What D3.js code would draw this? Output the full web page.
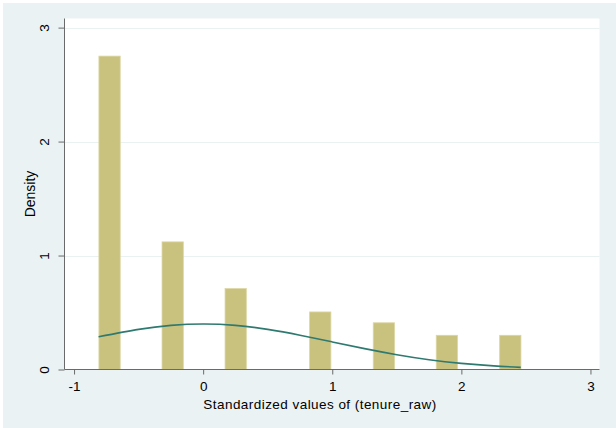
<!DOCTYPE html>
<html>
<head>
<meta charset="utf-8">
<script src="https://cdn.jsdelivr.net/npm/d3@7"></script>
<style>
  html, body { margin: 0; padding: 0; background: #ffffff; }
  svg { display: block; font-family: "Liberation Sans", Arial, sans-serif; }
</style>
</head>
<body>
<svg id="chart" width="616" height="428"></svg>
<script>
// Histogram bins: centre of each bin (standardized units) and its density
const binCenters = [-0.725, -0.236, 0.252, 0.907, 1.400, 1.888, 2.379];
const densities  = [2.75, 1.12, 0.71, 0.505, 0.41, 0.30, 0.30];
const binWidth = 0.165;

// Overlaid normal density curve
const curveX = [-0.81, -0.5, -0.25, 0, 0.25, 0.5, 0.75, 1, 1.25, 1.5, 1.75, 2, 2.25, 2.46];
const curveY = [0.287, 0.352, 0.387, 0.399, 0.387, 0.352, 0.301, 0.242, 0.183, 0.130, 0.086, 0.054, 0.032, 0.019];

const xTicks = [-1, 0, 1, 2, 3];
const yTicks = [0, 1, 2, 3];
const xTitle = "Standardized values of (tenure_raw)";
const yTitle = "Density";

const svg = d3.select("#chart");
const fontFam = "Liberation Sans, Arial, sans-serif";

// Outer panel background
svg.append("rect")
  .attr("x", 3).attr("y", 3).attr("width", 613).attr("height", 425)
  .attr("fill", "#eaf2f3");

const plot = { left: 64.5, right: 599.5, top: 18.5, bottom: 369.5 };

svg.append("rect")
  .attr("x", plot.left).attr("y", plot.top)
  .attr("width", plot.right - plot.left).attr("height", plot.bottom - plot.top)
  .attr("fill", "#ffffff");

const x = d3.scaleLinear().domain([-1.074, 3.07]).range([plot.left, plot.right]);
const y = d3.scaleLinear().domain([0, 3.08]).range([plot.bottom, plot.top]);

// Horizontal gridlines
svg.append("g").selectAll("line")
  .data(yTicks.filter(d => d > 0))
  .join("line")
  .attr("x1", plot.left).attr("x2", plot.right)
  .attr("y1", d => Math.round(y(d)) + 0.5).attr("y2", d => Math.round(y(d)) + 0.5)
  .attr("stroke", "#eaf1f1").attr("stroke-width", 1.2);

// Bars
const bins = binCenters.map((c, i) => ({ c, d: densities[i] }));
svg.append("g").selectAll("rect")
  .data(bins)
  .join("rect")
  .attr("x", d => x(d.c - binWidth / 2))
  .attr("width", d => x(d.c + binWidth / 2) - x(d.c - binWidth / 2))
  .attr("y", d => y(d.d))
  .attr("height", d => y(0) - y(d.d))
  .attr("fill", "#c9c27f")
  .attr("stroke", "#dcd6a4")
  .attr("stroke-width", 0.8);

// Normal curve
const pts = curveX.map((v, i) => [v, curveY[i]]);
svg.append("path")
  .datum(pts)
  .attr("d", d3.line().x(d => x(d[0])).y(d => y(d[1])).curve(d3.curveNatural))
  .attr("fill", "none")
  .attr("stroke", "#2f7a70")
  .attr("stroke-width", 1.6);

// Axes
const xAxis = d3.axisBottom(x).tickValues(xTicks).tickSize(5).tickSizeOuter(0)
  .tickFormat(d => String(d));
const gx = svg.append("g").attr("transform", `translate(0,${plot.bottom})`).call(xAxis);
gx.select(".domain").attr("stroke", "#6a6a6a").attr("d", `M${plot.left},0H${plot.right}`);
gx.selectAll(".tick line").attr("stroke", "#6a6a6a");
gx.selectAll(".tick text")
  .attr("fill", "#000").attr("font-size", 13.5).attr("font-family", fontFam)
  .attr("y", 21.5).attr("dy", null);

const yAxis = d3.axisLeft(y).tickValues(yTicks).tickSize(6).tickSizeOuter(0)
  .tickFormat(d => String(d));
const gy = svg.append("g").attr("transform", `translate(${plot.left},0)`).call(yAxis);
gy.select(".domain").attr("stroke", "#6a6a6a").attr("d", `M0,${plot.bottom}V${plot.top}`);
gy.selectAll(".tick line").attr("stroke", "#6a6a6a");
gy.selectAll(".tick text")
  .attr("fill", "#000").attr("font-size", 13.5).attr("font-family", fontFam)
  .attr("x", null).attr("dy", null)
  .attr("text-anchor", "middle")
  .attr("transform", "translate(-16,0) rotate(-90)");

// Axis titles
svg.append("text")
  .attr("x", 320).attr("y", 409)
  .attr("text-anchor", "middle")
  .attr("font-size", 13.5).attr("letter-spacing", 0.45).attr("fill", "#000")
  .text(xTitle);

svg.append("text")
  .attr("transform", "translate(35,194) rotate(-90)")
  .attr("text-anchor", "middle")
  .attr("font-size", 14).attr("fill", "#000")
  .text(yTitle);
</script>
</body>
</html>
